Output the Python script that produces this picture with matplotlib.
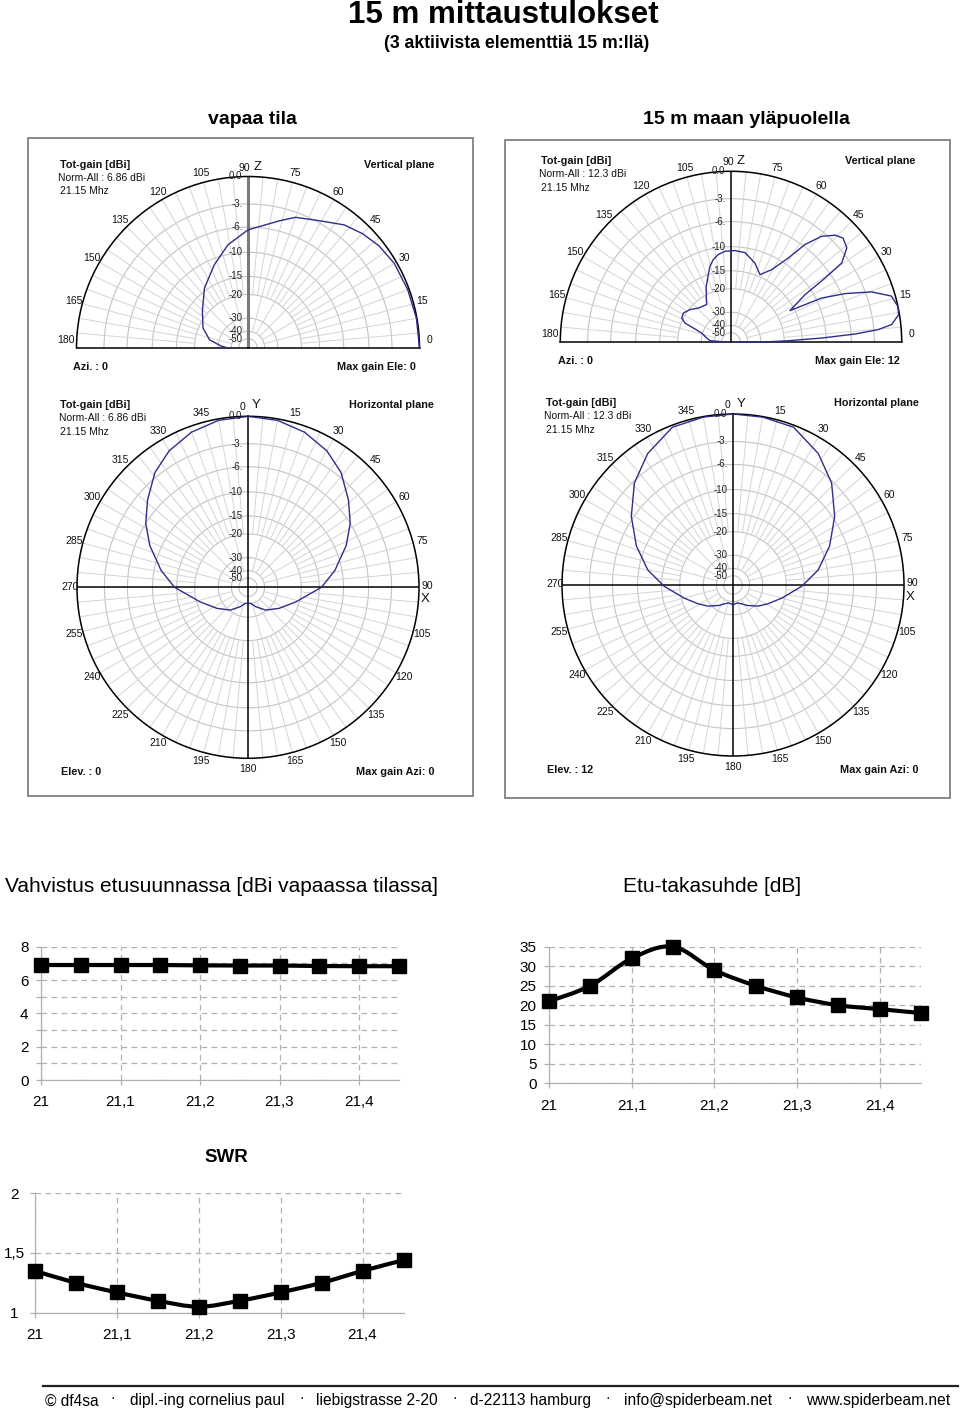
import numpy as np
import matplotlib
matplotlib.use('Agg')
import matplotlib.pyplot as plt
from matplotlib.path import Path
from matplotlib.patches import PathPatch, Rectangle
from matplotlib.lines import Line2D
from matplotlib.ticker import NullLocator

plt.rcParams['font.family'] = ['Liberation Sans', 'DejaVu Sans']

W, H = 960, 1412
fig = plt.figure(figsize=(W / 100, H / 100), dpi=100)


def fx(x):
    return x / W


def fy(y):
    return 1 - y / H


# ---------------- data ----------------
ring_db = [0, -3, -6, -10, -15, -20, -30, -40, -50]
ring_labels = ['0.0', '-3.', '-6.', '-10', '-15', '-20', '-30', '-40', '-50']

# free space, vertical plane (elevation deg, dB)
fs_elev = [0, 10, 20, 30, 38, 45, 52, 61, 70, 76, 90, 101, 112, 126, 141, 156, 168, 176, 180]
fs_elev_db = [0, -0.05, -0.15, -0.25, -0.55, -1.0, -1.6, -2.8, -3.6, -4.6, -6.4, -8.4,
              -11.1, -14.4, -18.4, -21.4, -25.3, -31.9, -37.0]

# free space, horizontal plane (azimuth 0..180 deg, symmetric)
fs_az = [0, 10, 20, 30, 39, 49, 58, 67, 79, 90, 107, 124, 142, 158, 169, 180]
fs_az_db = [0, -0.15, -0.6, -1.4, -2.5, -4.3, -6.0, -8.1, -11.3, -14.5, -21.1, -26.0,
            -30.5, -36.0, -40.0, -41.0]

# 15 m above ground, vertical plane
gr_elev = [0, 0.5, 1.3, 2.5, 3.7, 4.8, 6.2, 9.2, 12, 16, 19.6, 23, 25.9, 28, 32.6, 34.2,
           35.5, 39.1, 42.8, 45.7, 49.4, 52.8, 55.7, 60.7, 66.7, 73.1, 81, 87.5, 93.8,
           98.3, 102.1, 105.5, 108.6, 114.8, 123.1, 133.9, 141.7, 148.7, 154, 157.6,
           159.6, 163, 170.7, 176.4, 180]
gr_elev_db = [-60, -25, -18.7, -10.8, -5.4, -2.5, -0.94, -0.1, 0, -0.4, -2.3, -5.5, -9.1,
              -16.1, -11.4, -7.0, -3.9, -2.3, -1.9, -2.3, -3.5, -5.7, -8.9, -12.4, -14.5,
              -12.5, -10.9, -10.7, -10.8, -11.3, -12.1, -13.3, -15.0, -18.1, -23.0, -22.1,
              -20.3, -19.2, -19.5, -21.1, -24.8, -29.5, -33.2, -36.0, -60]

# 15 m above ground, horizontal plane at 12 deg elevation (azimuth 0..180, symmetric)
gr_az = [0, 10, 21, 33, 44, 56, 68, 80, 91, 105, 118, 130, 145, 164, 172, 180]
gr_az_db = [0, -0.05, -0.2, -1.5, -3.2, -5.7, -8.5, -11.7, -15.6, -20.9, -25.0, -28.3,
            -33.0, -38.0, -38.0, -36.8]

# line charts
freq = [21.0, 21.05, 21.1, 21.15, 21.2, 21.25, 21.3, 21.35, 21.4, 21.45]
gain = [6.9, 6.9, 6.9, 6.9, 6.88, 6.87, 6.87, 6.84, 6.83, 6.83]
fb = [21, 25, 32, 35, 29, 25, 22, 20, 19, 18]
swr = [1.35, 1.25, 1.17, 1.10, 1.05, 1.10, 1.17, 1.25, 1.35, 1.44]
freq_ticks = [21.0, 21.1, 21.2, 21.3, 21.4]
freq_labels = ['21', '21,1', '21,2', '21,3', '21,4']

footer_parts = ['\u00a9 df4sa', 'dipl.-ing cornelius paul', 'liebigstrasse 2-20',
                'd-22113 hamburg', 'info@spiderbeam.net', 'www.spiderbeam.net']


# ---------------- polar helpers ----------------
def fwd(d):
    d = np.asarray(d, dtype=float)
    return np.power(0.89, -d / 2.0)


def inv(r):
    r = np.maximum(np.asarray(r, dtype=float), 1e-300)
    return -2.0 * np.log(r) / np.log(0.89)


CURVE = '#2e2e8a'
RING = '#c4c4c4'
SPOKE = '#d4d4d4'


def polar_axes(cx, cy, R, half, horizontal):
    if half:
        # the half disc is centred in a square box
        rect = [fx(cx - R), fy(cy + 0.5 * R), 2 * R / W, 2 * R / H]
    else:
        rect = [fx(cx - R), fy(cy + R), 2 * R / W, 2 * R / H]
    ax = fig.add_axes(rect, projection='polar')
    ax.set_rscale('function', functions=(fwd, inv))
    ax.set_rlim(-200, 0)
    if horizontal:
        ax.set_theta_zero_location('N')
        ax.set_theta_direction(-1)
    if half:
        ax.set_thetamin(0)
        ax.set_thetamax(180)
    ax.grid(False)
    ax.set_xticks([])
    ax.set_yticks([])
    ax.yaxis.set_minor_locator(NullLocator())
    ax.xaxis.set_minor_locator(NullLocator())
    ax.patch.set_alpha(0)
    ax.spines['polar'].set_color('black')
    ax.spines['polar'].set_linewidth(1.1)
    if half:
        for s in ('start', 'end'):
            ax.spines[s].set_color('black')
            ax.spines[s].set_linewidth(1.1)
        ax.spines['inner'].set_visible(False)
    tmax = np.pi if half else 2 * np.pi
    th = np.linspace(0, tmax, 721)
    for d in ring_db[1:]:
        ax.plot(th, np.full_like(th, d), color=RING, lw=0.8, zorder=1)
    amax = 180 if half else 360
    for a in range(5, amax, 5):
        if a % 90 == 0:
            continue
        start = -40 if a % 15 == 0 else -20
        ax.plot([np.deg2rad(a)] * 2, [start, 0], color=SPOKE, lw=0.7, zorder=1)
    # ring labels near the 90 / 0 axis
    t_lab = 0.0 if horizontal else np.pi / 2
    for d, lab in zip(ring_db, ring_labels):
        ax.annotate(lab, xy=(t_lab, d), xytext=(-4, 0), textcoords='offset points',
                    ha='right', va='center', fontsize=7, color='#222222',
                    annotation_clip=False, zorder=4)
    return ax


def angle_label(ax, ang, txt, horizontal, dist=6.6, dx=0.0, dy=0.0):
    a = np.deg2rad(ang)
    if horizontal:
        ox, oy = np.sin(a) * dist, np.cos(a) * dist
    else:
        ox, oy = np.cos(a) * dist, np.sin(a) * dist
    ax.annotate(txt, xy=(a, 0), xytext=(ox + dx, oy + dy), textcoords='offset points',
                ha='center', va='center', fontsize=7.5, color='#111111',
                annotation_clip=False)


def mirror(az, db):
    az = np.asarray(az, float)
    db = np.asarray(db, float)
    full_az = np.concatenate([az, 360 - az[-2::-1]])
    full_db = np.concatenate([db, db[-2::-1]])
    return np.deg2rad(full_az), full_db


def vertical_plot(cx, cy, R, elev, vals, axis_color, axis_lw):
    ax = polar_axes(cx, cy, R, True, False)
    ax.plot([np.pi / 2] * 2, [-200, 0], color=axis_color, lw=axis_lw, zorder=2)
    ax.plot(np.deg2rad(elev), vals, color=CURVE, lw=1.0, zorder=3, clip_on=False)
    for a in range(0, 181, 15):
        if a == 90:
            continue
        if a == 0:
            angle_label(ax, 2.5, '0', False, dist=7.2)
        elif a == 180:
            angle_label(ax, 177.5, '180', False, dist=7.6)
        else:
            angle_label(ax, a, str(a), False)
    return ax


def horizontal_plot(cx, cy, R, az, vals):
    ax = polar_axes(cx, cy, R, False, True)
    ax.plot([0, 0], [-200, 0], color='black', lw=1.1, zorder=2)
    ax.plot([np.pi, np.pi], [-200, 0], color='black', lw=1.1, zorder=2)
    ax.plot([np.pi / 2] * 2, [-200, 0], color='black', lw=1.1, zorder=2)
    ax.plot([3 * np.pi / 2] * 2, [-200, 0], color='black', lw=1.1, zorder=2)
    th, d = mirror(az, vals)
    ax.plot(th, d, color=CURVE, lw=1.0, zorder=3)
    for a in range(15, 360, 15):
        if a == 90:
            angle_label(ax, a, '90', True, dist=6.3, dy=1.2)
        elif a == 270:
            angle_label(ax, a, '270', True, dist=5.2, dy=0.5)
        elif a == 180:
            angle_label(ax, a, '180', True, dist=7.8)
        else:
            angle_label(ax, a, str(a), True)
    return ax


def ftext(x, y, s, **kw):
    fig.text(fx(x), fy(y), s, **kw)


# frames
for (x0, y0, x1, y1) in [(28, 138, 473, 796), (505, 140, 950, 798)]:
    fig.patches.append(Rectangle((fx(x0), fy(y1)), (x1 - x0) / W, (y1 - y0) / H,
                                 transform=fig.transFigure, fill=False,
                                 edgecolor='#8a8a8a', lw=1.4))

# ----- left column: free space -----
vertical_plot(248, 348, 171.5, fs_elev, fs_elev_db, '#7a7a7a', 2.2)
horizontal_plot(248, 587.3, 171, fs_az, fs_az_db)
# ----- right column: above ground -----
vertical_plot(731, 342, 170.7, gr_elev, gr_elev_db, 'black', 1.1)
horizontal_plot(733, 585, 171, gr_az, gr_az_db)

SMALL = dict(fontsize=7.5, color='#111111', va='center')
BOLD = dict(fontsize=7.8, color='#111111', va='center', fontweight='bold')

panels = [
    (60, 164.7, 'Norm-All : 6.86 dBi', 434, 'Vertical plane', 73, 416, 367, 'Azi. : 0', 'Max gain Ele: 0'),
    (60.5, 405, 'Norm-All : 6.86 dBi', 434, 'Horizontal plane', 61, 434, 771.7, 'Elev. : 0', 'Max gain Azi: 0'),
    (540.7, 161.3, 'Norm-All : 12.3 dBi', 915.7, 'Vertical plane', 558.3, 899.3, 360.7, 'Azi. : 0', 'Max gain Ele: 12'),
    (545.7, 403.3, 'Norm-All : 12.3 dBi', 919, 'Horizontal plane', 546.7, 919, 770, 'Elev. : 12', 'Max gain Azi: 0'),
]
for (xl, yt, norm, xr, plane, xbl, xbr, yb, bl, br) in panels:
    ftext(xl, yt, 'Tot-gain [dBi]', ha='left', **BOLD)
    ftext(xl - 1.5, yt + 13, norm, ha='left', **SMALL)
    ftext(xl, yt + 26.5, '21.15 Mhz', ha='left', **SMALL)
    ftext(xr, yt, plane, ha='right', **BOLD)
    ftext(xbl, yb, bl, ha='left', **BOLD)
    ftext(xbr, yb, br, ha='right', **BOLD)

# axis names
ftext(244.5, 168, '90', ha='center', **SMALL)
ftext(258, 167, 'Z', ha='center', fontsize=9.5, va='center', color='#111111')
ftext(728, 162, '90', ha='center', **SMALL)
ftext(741, 161, 'Z', ha='center', fontsize=9.5, va='center', color='#111111')
ftext(243, 406.7, '0', ha='center', **SMALL)
ftext(256, 405.5, 'Y', ha='center', fontsize=9.5, va='center', color='#111111')
ftext(727.7, 405, '0', ha='center', **SMALL)
ftext(741, 404, 'Y', ha='center', fontsize=9.5, va='center', color='#111111')
ftext(425.5, 599, 'X', ha='center', fontsize=9.5, va='center', color='#111111')
ftext(910, 597, 'X', ha='center', fontsize=9.5, va='center', color='#111111')

# ----- titles -----
ftext(503, 15, '15 m mittaustulokset', ha='center', va='center', fontsize=22.5,
      fontweight='bold')
ftext(517, 44, '(3 aktiivista elementtiä 15 m:llä)', ha='center', va='center',
      fontsize=12.7, fontweight='bold')
ftext(252, 120, 'vapaa tila', ha='center', va='center', fontsize=14,
      fontweight='bold')
ftext(746, 120, '15 m maan yläpuolella', ha='center', va='center', fontsize=14,
      fontweight='bold')

ftext(5, 887, 'Vahvistus etusuunnassa [dBi vapaassa tilassa]', ha='left', va='center',
      fontsize=15)
ftext(712, 887, 'Etu-takasuhde [dB]', ha='center', va='center', fontsize=15)
ftext(226, 1158, 'SWR', ha='center', va='center', fontsize=13.5, fontweight='bold')


# ----- line charts -----
GRID = '#b0b0b0'


def smooth_path(xs, ys):
    pts = np.column_stack([xs, ys]).astype(float)
    n = len(pts)
    verts = [pts[0]]
    codes = [Path.MOVETO]
    for i in range(n - 1):
        p0 = pts[max(i - 1, 0)]
        p1 = pts[i]
        p2 = pts[i + 1]
        p3 = pts[min(i + 2, n - 1)]
        verts += [p1 + (p2 - p0) / 6.0, p2 - (p3 - p1) / 6.0, p2]
        codes += [Path.CURVE4] * 3
    return Path(verts, codes)


def line_chart(x0, x1, y_top, y_bot, ylim, major, minor, ylabels, ydata, smooth,
               ylab_center=False):
    ax = fig.add_axes([fx(x0), fy(y_bot), (x1 - x0) / W, (y_bot - y_top) / H])
    ax.set_xlim(21.0, 21.45)
    ax.set_ylim(*ylim)
    for s in ('top', 'right'):
        ax.spines[s].set_visible(False)
    for s in ('left', 'bottom'):
        ax.spines[s].set_color(GRID)
        ax.spines[s].set_linewidth(0.9)
    ax.set_xticks(freq_ticks)
    ax.set_xticklabels(freq_labels)
    ax.set_yticks(major)
    ax.set_yticklabels(ylabels)
    if minor:
        ax.set_yticks(minor, minor=True)
    ax.tick_params(axis='both', which='both', color=GRID, length=3.5, width=0.9,
                   labelsize=11, labelcolor='black')
    ax.tick_params(axis='x', pad=7.5)
    if ylab_center:
        ax.tick_params(axis='y', pad=11.5)
        for t in ax.get_yticklabels():
            t.set_horizontalalignment('center')
    else:
        ax.tick_params(axis='y', pad=5.5)
    ax.grid(True, which='both', color=GRID, lw=0.9, ls=(0, (4.5, 3.5)))
    ax.set_axisbelow(True)
    if smooth:
        ax.add_patch(PathPatch(smooth_path(freq, ydata), facecolor='none',
                               edgecolor='black', lw=3.0, clip_on=False, zorder=4))
    else:
        ax.plot(freq, ydata, color='black', lw=3.0, clip_on=False, zorder=4)
    ax.plot(freq, ydata, ls='none', marker='s', ms=9.5, color='black',
            clip_on=False, zorder=5)
    return ax


line_chart(41, 398.8, 946.7, 1080, (0, 8), [0, 2, 4, 6, 8], [1, 3, 5, 7],
           ['0', '2', '4', '6', '8'], gain, False)
line_chart(549, 921, 946.7, 1083.3, (0, 35), [0, 5, 10, 15, 20, 25, 30, 35], None,
           ['0', '5', '10', '15', '20', '25', '30', '35'], fb, True)
line_chart(35, 403.5, 1193.3, 1312.7, (1, 2), [1, 1.5, 2], None,
           ['1', '1,5', '2'], swr, True, ylab_center=True)

# ----- footer -----
fig.add_artist(Line2D([fx(43), fx(958)], [fy(1386)] * 2, color='#222222', lw=1.6))
starts = [45, 130, 316, 470, 624, 806]
dots = [113, 302, 455, 608, 790]
for s, t in zip(starts, footer_parts):
    ftext(s, 1401, t, ha='left', va='center', fontsize=11.2)
for d in dots:
    ftext(d, 1398, '\u00b7', ha='center', va='center', fontsize=10)

fig.savefig('out.png', dpi=100, facecolor='white')
